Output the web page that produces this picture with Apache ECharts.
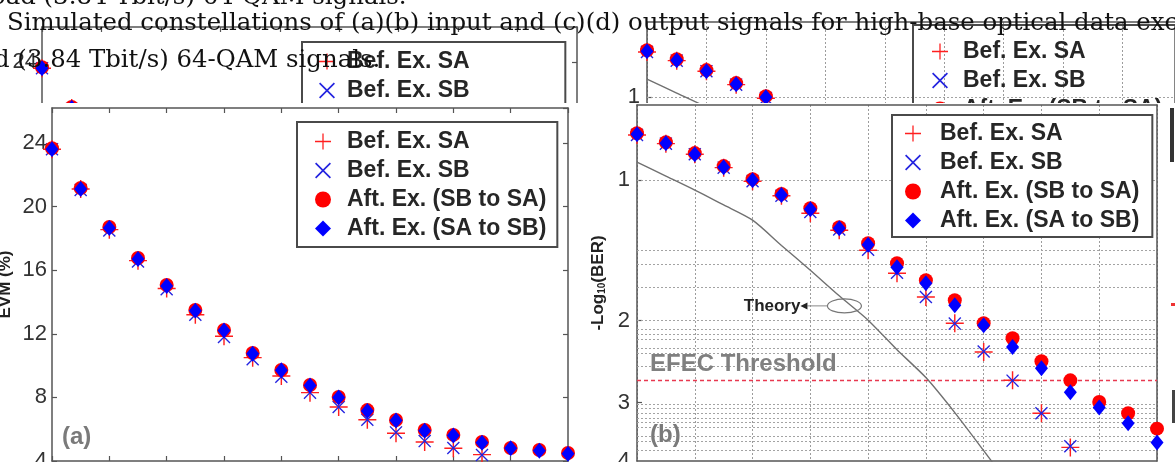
<!DOCTYPE html>
<html>
<head>
<meta charset="utf-8">
<script src="https://cdn.jsdelivr.net/npm/echarts@6.0.0/dist/echarts.min.js"></script>
<style>
  html, body { margin: 0; padding: 0; background: #fff; }
  #chart { width: 1175px; height: 462px; }
</style>
</head>
<body>
<div id="chart"></div>
<script>
// measurement steps (x axis, labels are cut off in the picture)
const steps = [0, 1, 2, 3, 4, 5, 6, 7, 8, 9, 10, 11, 12, 13, 14, 15, 16, 17, 18]

// (a) EVM (%)
const evmBefSA = [23.6, 21.1, 18.55, 16.6, 14.85, 13.2, 11.85, 10.5, 9.35, 8.3, 7.4, 6.6, 5.75, 5.2, 4.8, 4.4, 3.9, 3.7, 3.6]
const evmBefSB = [23.6, 21.05, 18.5, 16.55, 14.8, 13.2, 11.8, 10.4, 9.3, 8.3, 7.4, 6.6, 5.8, 5.25, 4.82, 4.38, 3.9, 3.7, 3.6]
const evmAftSBtoSA = [23.67, 21.17, 18.72, 16.77, 15.07, 13.5, 12.24, 10.79, 9.72, 8.78, 8.03, 7.2, 6.58, 5.95, 5.64, 5.2, 4.82, 4.69, 4.5]
const evmAftSAtoSB = [23.6, 21.1, 18.65, 16.7, 15.0, 13.45, 12.2, 10.75, 9.7, 8.75, 8.0, 7.15, 6.55, 5.9, 5.6, 5.15, 4.8, 4.65, 4.45]

// (b) -Log10(BER)
const berBefSA = [0.8, 0.835, 0.88, 0.94, 1.005, 1.08, 1.177, 1.28, 1.413, 1.583, 1.781, 2.026, 2.335, 2.686, 3.16, 3.74, 4.3, 4.9, 5.5]
const berBefSB = [0.8, 0.835, 0.88, 0.94, 1.005, 1.08, 1.17, 1.275, 1.41, 1.58, 1.78, 2.03, 2.33, 2.69, 3.16, 3.72, 4.3, 4.9, 5.5]
const berAftSBtoSA = [0.793, 0.829, 0.875, 0.933, 0.995, 1.071, 1.148, 1.261, 1.365, 1.507, 1.638, 1.809, 2.026, 2.182, 2.444, 2.686, 2.99, 3.16, 3.41]
const berAftSAtoSB = [0.797, 0.833, 0.88, 0.938, 1.0, 1.076, 1.155, 1.268, 1.375, 1.537, 1.663, 1.854, 2.047, 2.279, 2.53, 2.85, 3.07, 3.32, 3.65]
const berTheory = [0.915, 0.98, 1.05, 1.13, 1.218, 1.38, 1.56, 1.77, 1.996, 2.31, 2.65, 3.15, 3.8, 4.6]
const efecThreshold = 2.68
const berGridMajor = [1, 2, 3]
const berGridMinor = [1.4, 1.5, 1.7, 2.07, 2.13, 2.2, 2.28, 2.37, 2.49, 3.04, 3.09, 3.14, 3.22, 3.32, 3.4, 3.56, 3.66, 3.83]
const berTickLabels = [1, 2, 3, 4]
const theoryNote = [7.18, 1.86]

const seriesNames = ['Bef. Ex. SA', 'Bef. Ex. SB', 'Aft. Ex. (SB to SA)', 'Aft. Ex. (SA to SB)']

const FONT = '"Liberation Sans", Arial, sans-serif'
const SERIF = '24.4px "DejaVu Serif", serif'
const AXIS = '#555'

const plusPath = 'path://M9.2,0H10.8V9.2H20V10.8H10.8V20H9.2V10.8H0V9.2H9.2Z'
const crossPath = 'path://M1.5,0L10,8.5L18.5,0L20,1.5L11.5,10L20,18.5L18.5,20L10,11.5L1.5,20L0,18.5L8.5,10L0,1.5Z'
const marks = [
  { symbol: plusPath, symbolSize: 18, color: '#ff1f1f' },
  { symbol: crossPath, symbolSize: 13, color: '#2424e0' },
  { symbol: 'circle', symbolSize: 14, color: '#ff0000' },
  { symbol: 'diamond', symbolSize: [13, 16], color: '#0000ff' },
]

// main panels first, then the shifted copy that peeks out at the top
const panels = [
  { kind: 'evm', grid: { left: 52, top: 108, width: 516, height: 353 }, z: 10,
    legend: { left: 297, top: 122, padding: [8, 11, 7, 18], textPad: 11 } },
  { kind: 'ber', grid: { left: 637, top: 105, width: 520, height: 356 }, z: 10,
    legend: { left: 892, top: 115, padding: [7, 13, 5, 13], textPad: 14 } },
  { kind: 'evm', grid: { left: 42, top: 27, width: 535, height: 353 }, z: 0,
    legend: { left: 302, top: 42, padding: [8, 19, 7, 17], textPad: 7 } },
  { kind: 'ber', grid: { left: 647, top: 22, width: 535, height: 356 }, z: 0,
    legend: { left: 913, top: 25, padding: [15, 13, 7, 19], textPad: 10 } },
]

const lg = v => Math.log10(v)

const option = {
  backgroundColor: '#fff',
  animation: false,
  grid: panels.map(p => ({ ...p.grid, containLabel: false, outerBoundsMode: 'none', show: false })),
  xAxis: [],
  yAxis: [],
  series: [],
  legend: [],
}

panels.forEach((p, i) => {
  const z = p.z
  const isEvm = p.kind === 'evm'
  const line = { show: true, onZero: false, lineStyle: { color: AXIS, width: 1.5 } }
  const tick = { show: isEvm, inside: true, length: 5, lineStyle: { color: AXIS, width: 1.2 } }

  option.xAxis.push({
    gridIndex: i, type: 'value', position: 'bottom', min: 0, max: 18, interval: 2, z,
    axisLine: line, axisTick: tick, axisLabel: { show: false },
    splitLine: { show: !isEvm, lineStyle: { color: '#9c9c9c', type: [2, 2], width: 1 } },
  })
  option.xAxis.push({
    gridIndex: i, type: 'value', position: 'top', min: 0, max: 18, interval: 2, z,
    axisLine: line, axisTick: tick, axisLabel: { show: false }, splitLine: { show: false },
  })

  // BER panel: log scale, drawn top-down
  const yRange = isEvm
    ? { min: 4, max: 26.2, interval: 4 }
    : { min: lg(0.69), max: lg(4), inverse: true }
  const labelStyle = { show: true, fontSize: 22, color: '#333', fontFamily: FONT }
  option.yAxis.push({
    gridIndex: i, type: 'value', position: 'left', ...yRange, z,
    axisLine: line,
    axisTick: isEvm ? tick : { ...tick, show: true, customValues: berGridMajor.map(lg) },
    axisLabel: isEvm
      ? { ...labelStyle, margin: 5, showMaxLabel: false }
      : { ...labelStyle, margin: 7, customValues: berTickLabels.map(lg),
          formatter: v => String(Math.round(Math.pow(10, v))) },
    splitLine: { show: false },
    name: isEvm ? 'EVM (%)' : '-Log{sub|10}(BER)',
    nameLocation: 'middle',
    nameGap: isEvm ? 38 : 30,
    nameMoveOverlap: false,
    nameTextStyle: {
      fontSize: 17, fontWeight: 'bold', color: '#222', fontFamily: FONT,
      rich: { sub: { fontSize: 10, fontWeight: 'bold', color: '#222', fontFamily: FONT, padding: [8, 0, 0, 0] } },
    },
  })
  option.yAxis.push({
    gridIndex: i, type: 'value', position: 'right', ...yRange, z,
    axisLine: line, axisTick: tick, axisLabel: { show: false }, splitLine: { show: false },
  })

  const xi = 2 * i
  const values = isEvm
    ? [evmBefSA, evmBefSB, evmAftSBtoSA, evmAftSAtoSB]
    : [berBefSA, berBefSB, berAftSBtoSA, berAftSAtoSB]

  if (!isEvm) {
    // theory curve carries the horizontal grid and the EFEC threshold line
    const gridLines = berGridMajor.concat(berGridMinor).map(v => ({ yAxis: lg(v) }))
    gridLines.push({ yAxis: lg(efecThreshold), lineStyle: { color: '#e8384f', type: [4, 3], width: 1.3 } })
    option.series.push({
      type: 'line', xAxisIndex: xi, yAxisIndex: xi, z: z + 2, silent: true,
      symbol: 'none', showSymbol: false, smooth: 0.25,
      lineStyle: { color: '#707070', width: 1.4 },
      data: berTheory.map((v, k) => [steps[k], lg(v)]),
      markLine: {
        z: z + 1, silent: true, symbol: 'none', label: { show: false }, animation: false,
        lineStyle: { color: '#a3a3a3', type: [2, 2], width: 1 },
        data: gridLines,
      },
    })
  }

  seriesNames.forEach((name, k) => {
    const m = marks[k]
    option.series.push({
      type: 'scatter', name, xAxisIndex: xi, yAxisIndex: xi, z: z + 4, silent: true,
      symbol: m.symbol, symbolSize: m.symbolSize,
      itemStyle: { color: m.color, opacity: 1 },
      data: steps.map((s, j) => [s, isEvm ? values[k][j] : lg(values[k][j])]),
    })
  })

  const L = p.legend
  option.legend.push({
    show: true, orient: 'vertical', left: L.left, top: L.top, padding: L.padding,
    itemGap: 6, itemWidth: 16, itemHeight: 16, selectedMode: false, z: z + 5,
    data: seriesNames,
    backgroundColor: i < 2 ? '#fff' : 'transparent',
    borderColor: '#4a4a4a', borderWidth: 2, borderRadius: 0,
    textStyle: { fontSize: 23, fontWeight: 'bold', color: '#262626', fontFamily: FONT, padding: [0, 0, 0, L.textPad] },
  })
})

const chart = echarts.init(document.getElementById('chart'))
chart.setOption(option)

function txt(x, y, text, font, fill, align, z) {
  return { type: 'text', x, y, z, silent: true, style: { text, font, fill, align, verticalAlign: 'middle' } }
}

const toB = (x, v) => chart.convertToPixel({ xAxisIndex: 2, yAxisIndex: 2 }, [x, lg(v)])
const note = toB(theoryNote[0], theoryNote[1])
const efec = toB(0.45, efecThreshold)
const cx = note[0], cy = note[1]

chart.setOption({
  graphic: {
    elements: [
      // caption of the page behind the figure
      txt(-9, -2, 'oad (3.84 Tbit/s) 64-QAM signals.', SERIF, '#111', 'left', 5),
      txt(7, 24, 'Simulated constellations of (a)(b) input and (c)(d) output signals for high-base optical data exchange', SERIF, '#111', 'left', 5),
      txt(-6, 61, 'd (3.84 Tbit/s) 64-QAM signals.', SERIF, '#111', 'left', 5),
      // main figure covers the lower part of the copy
      { type: 'rect', z: 9, silent: true, shape: { x: 0, y: 103, width: 1175, height: 359 }, style: { fill: '#fff' } },
      txt(62, 437, '(a)', 'bold 24px ' + FONT, '#7a7a7a', 'left', 20),
      txt(650, 435, '(b)', 'bold 24px ' + FONT, '#7a7a7a', 'left', 20),
      { type: 'text', x: efec[0], y: efec[1] - 3, z: 20, silent: true,
        style: { text: 'EFEC Threshold', font: 'bold 24px ' + FONT, fill: '#808080', align: 'left', verticalAlign: 'bottom' } },
      { type: 'ellipse', z: 20, silent: true, shape: { cx, cy, rx: 17, ry: 7 }, style: { fill: 'none', stroke: '#777', lineWidth: 1.2 } },
      { type: 'line', z: 20, silent: true, shape: { x1: cx - 37, y1: cy, x2: cx - 17, y2: cy }, style: { stroke: '#888', lineWidth: 1 } },
      { type: 'polygon', z: 20, silent: true, shape: { points: [[cx - 44, cy], [cx - 37, cy - 3.5], [cx - 37, cy + 3.5]] }, style: { fill: '#222' } },
      txt(cx - 44, cy, 'Theory', 'bold 17px ' + FONT, '#222', 'right', 20),
      // fragments of the neighbouring figure at the right edge
      { type: 'rect', z: 20, silent: true, shape: { x: 1170, y: 108, width: 4, height: 54 }, style: { fill: '#333' } },
      { type: 'rect', z: 20, silent: true, shape: { x: 1171, y: 303, width: 4, height: 3 }, style: { fill: '#e33' } },
      { type: 'rect', z: 20, silent: true, shape: { x: 1172, y: 390, width: 3, height: 33 }, style: { fill: '#444' } },
    ],
  },
})
</script>
</body>
</html>
